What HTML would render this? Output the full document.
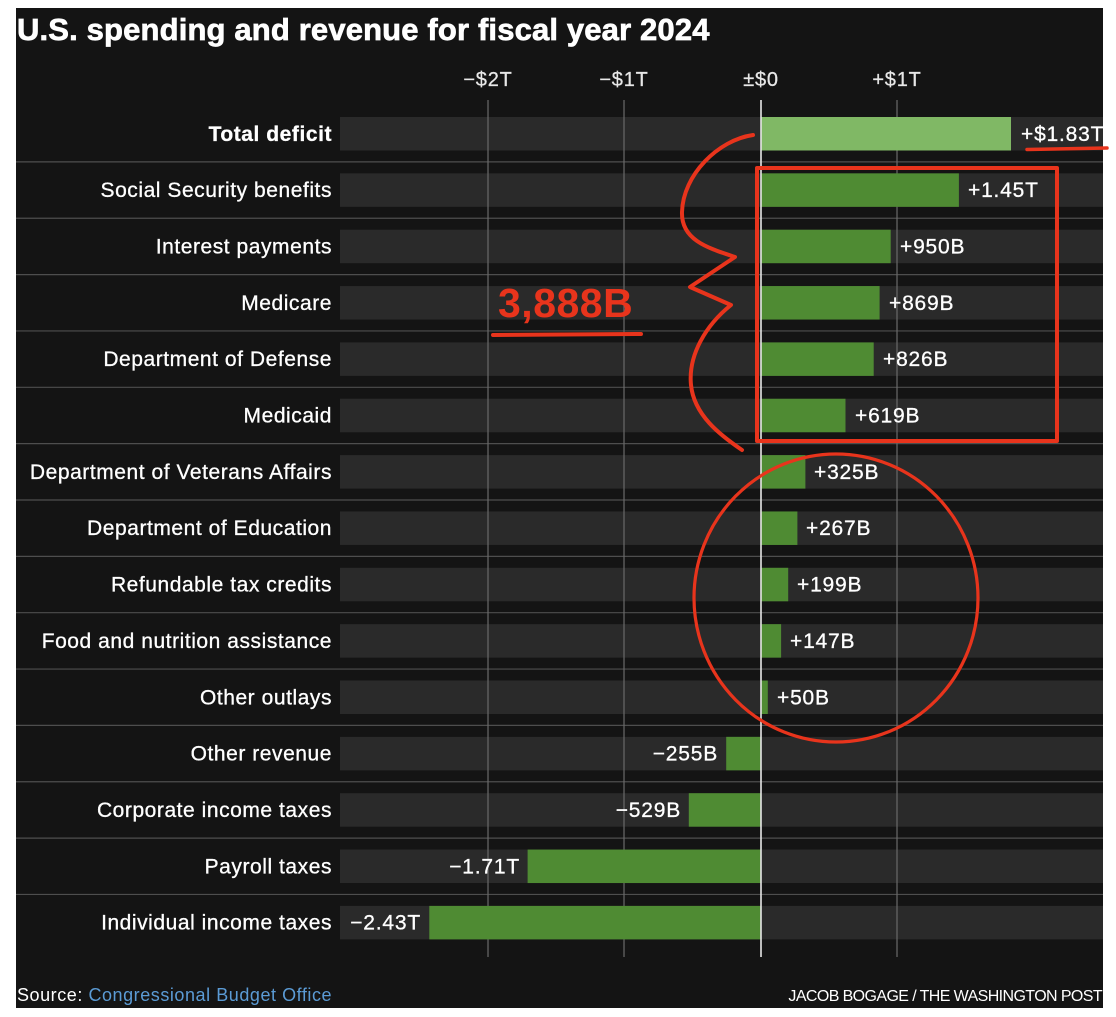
<!DOCTYPE html>
<html>
<head>
<meta charset="utf-8">
<style>
  html,body{margin:0;padding:0;background:#ffffff;}
  svg{display:block;}
  text{font-family:"Liberation Sans",Arial,sans-serif;}
</style>
</head>
<body>
<svg width="1116" height="1017" viewBox="0 0 1116 1017" xmlns="http://www.w3.org/2000/svg">
  <rect x="0" y="0" width="1116" height="1017" fill="#ffffff"/>
  <rect x="16" y="8" width="1087" height="1000" fill="#141414"/>

  <!-- title -->
  <text x="17" y="40" fill="#ffffff" stroke="#ffffff" stroke-width="0.7" font-size="31" font-weight="bold" letter-spacing="0.15">U.S. spending and revenue for fiscal year 2024</text>

  <!-- tick labels -->
  <g fill="#e8e8e8" font-size="20" text-anchor="middle" letter-spacing="0.8" stroke="#e8e8e8" stroke-width="0.25">
    <text x="488" y="86">−$2T</text>
    <text x="624" y="86">−$1T</text>
    <text x="761" y="86">±$0</text>
    <text x="897" y="86">+$1T</text>
  </g>

  <!-- bands -->
  <g fill="#2a2a2a">
    <rect x="340" y="117" width="763" height="33.5"/>
    <rect x="340" y="173.35" width="763" height="33.5"/>
    <rect x="340" y="229.7" width="763" height="33.5"/>
    <rect x="340" y="286.05" width="763" height="33.5"/>
    <rect x="340" y="342.4" width="763" height="33.5"/>
    <rect x="340" y="398.75" width="763" height="33.5"/>
    <rect x="340" y="455.1" width="763" height="33.5"/>
    <rect x="340" y="511.45" width="763" height="33.5"/>
    <rect x="340" y="567.8" width="763" height="33.5"/>
    <rect x="340" y="624.15" width="763" height="33.5"/>
    <rect x="340" y="680.5" width="763" height="33.5"/>
    <rect x="340" y="736.85" width="763" height="33.5"/>
    <rect x="340" y="793.2" width="763" height="33.5"/>
    <rect x="340" y="849.55" width="763" height="33.5"/>
    <rect x="340" y="905.9" width="763" height="33.5"/>
  </g>

  <!-- row separators -->
  <g stroke="#4e4e4e" stroke-width="1.2">
    <line x1="16" x2="1103" y1="161.9" y2="161.9"/>
    <line x1="16" x2="1103" y1="218.25" y2="218.25"/>
    <line x1="16" x2="1103" y1="274.6" y2="274.6"/>
    <line x1="16" x2="1103" y1="330.95" y2="330.95"/>
    <line x1="16" x2="1103" y1="387.3" y2="387.3"/>
    <line x1="16" x2="1103" y1="443.65" y2="443.65"/>
    <line x1="16" x2="1103" y1="500" y2="500"/>
    <line x1="16" x2="1103" y1="556.35" y2="556.35"/>
    <line x1="16" x2="1103" y1="612.7" y2="612.7"/>
    <line x1="16" x2="1103" y1="669.05" y2="669.05"/>
    <line x1="16" x2="1103" y1="725.4" y2="725.4"/>
    <line x1="16" x2="1103" y1="781.75" y2="781.75"/>
    <line x1="16" x2="1103" y1="838.1" y2="838.1"/>
    <line x1="16" x2="1103" y1="894.45" y2="894.45"/>
  </g>

  <!-- gridlines -->
  <g stroke="#6a6a6a" stroke-width="1.2">
    <line x1="488" x2="488" y1="100" y2="957"/>
    <line x1="624" x2="624" y1="100" y2="957"/>
    <line x1="897" x2="897" y1="100" y2="957"/>
  </g>

  <!-- bars -->
  <rect x="761" y="117" width="250" height="33.5" fill="#80b865"/>
  <g fill="#4f8b33">
    <rect x="761" y="173.35" width="197.9" height="33.5"/>
    <rect x="761" y="229.7" width="129.7" height="33.5"/>
    <rect x="761" y="286.05" width="118.6" height="33.5"/>
    <rect x="761" y="342.4" width="112.7" height="33.5"/>
    <rect x="761" y="398.75" width="84.5" height="33.5"/>
    <rect x="761" y="455.1" width="44.4" height="33.5"/>
    <rect x="761" y="511.45" width="36.4" height="33.5"/>
    <rect x="761" y="567.8" width="27.2" height="33.5"/>
    <rect x="761" y="624.15" width="20.1" height="33.5"/>
    <rect x="761" y="680.5" width="6.8" height="33.5"/>
    <rect x="726.2" y="736.85" width="34.8" height="33.5"/>
    <rect x="688.8" y="793.2" width="72.2" height="33.5"/>
    <rect x="527.6" y="849.55" width="233.4" height="33.5"/>
    <rect x="429.3" y="905.9" width="331.7" height="33.5"/>
  </g>

  <!-- zero line -->
  <line x1="761" x2="761" y1="100" y2="957" stroke="#e6e6e6" stroke-width="1.6"/>

  <!-- row labels -->
  <g fill="#ffffff" font-size="21" text-anchor="end" letter-spacing="0.55" stroke="#ffffff" stroke-width="0.3">
    <text x="332" y="140.75" font-weight="bold">Total deficit</text>
    <text x="332" y="197.1">Social Security benefits</text>
    <text x="332" y="253.45">Interest payments</text>
    <text x="332" y="309.8">Medicare</text>
    <text x="332" y="366.15">Department of Defense</text>
    <text x="332" y="422.5">Medicaid</text>
    <text x="332" y="478.85">Department of Veterans Affairs</text>
    <text x="332" y="535.2">Department of Education</text>
    <text x="332" y="591.55">Refundable tax credits</text>
    <text x="332" y="647.9">Food and nutrition assistance</text>
    <text x="332" y="704.25">Other outlays</text>
    <text x="332" y="760.6">Other revenue</text>
    <text x="332" y="816.95">Corporate income taxes</text>
    <text x="332" y="873.3">Payroll taxes</text>
    <text x="332" y="929.65">Individual income taxes</text>
  </g>

  <!-- value labels -->
  <g fill="#ffffff" font-size="21" letter-spacing="0.8" stroke="#ffffff" stroke-width="0.3">
    <text x="1021" y="140.75">+$1.83T</text>
    <text x="968" y="197.1">+1.45T</text>
    <text x="900" y="253.45">+950B</text>
    <text x="889" y="309.8">+869B</text>
    <text x="883" y="366.15">+826B</text>
    <text x="855" y="422.5">+619B</text>
    <text x="814" y="478.85">+325B</text>
    <text x="806" y="535.2">+267B</text>
    <text x="797" y="591.55">+199B</text>
    <text x="790" y="647.9">+147B</text>
    <text x="777" y="704.25">+50B</text>
  </g>
  <g fill="#ffffff" font-size="21" letter-spacing="0.8" text-anchor="end" stroke="#ffffff" stroke-width="0.3">
    <text x="718" y="760.6">−255B</text>
    <text x="681" y="816.95">−529B</text>
    <text x="520" y="873.3">−1.71T</text>
    <text x="421" y="929.65">−2.43T</text>
  </g>

  <!-- footer -->
  <text x="17" y="1001" font-size="18" fill="#ffffff" letter-spacing="0.55">Source: <tspan fill="#5b9bd5">Congressional Budget Office</tspan></text>
  <text x="1102" y="1001" font-size="16" fill="#ffffff" text-anchor="end" letter-spacing="-0.6">JACOB BOGAGE / THE WASHINGTON POST</text>

  <!-- red annotations -->
  <g fill="none" stroke="#e8341c" stroke-linecap="round" stroke-linejoin="round">
    <path d="M753,135 C718,140 683,175 682,212 C681,240 708,248 735,257 L690,287 L731,305 C706,325 688,355 691,385 C694,415 720,435 742,450" stroke-width="4"/>
    <rect x="757" y="168" width="300" height="273" stroke-width="4"/>
    <ellipse cx="836" cy="598" rx="142" ry="144" stroke-width="3.2"/>
    <line x1="493" y1="335" x2="641" y2="334" stroke-width="4"/>
    <line x1="1027" y1="149.5" x2="1107" y2="148" stroke-width="3.5"/>
  </g>
  <text x="498" y="317" font-size="41" font-weight="bold" fill="#e8341c" letter-spacing="0.5">3,888B</text>
</svg>
</body>
</html>
